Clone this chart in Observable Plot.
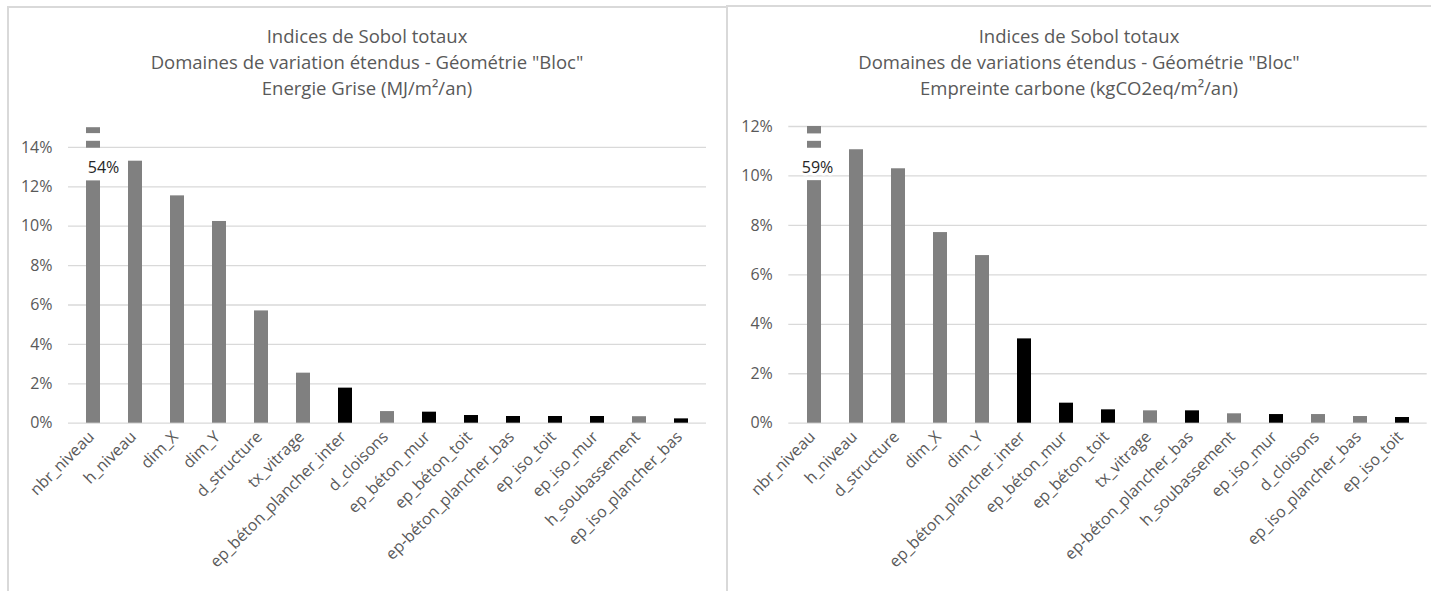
<!DOCTYPE html>
<html><head><meta charset="utf-8">
<script src="https://cdn.jsdelivr.net/npm/d3@7"></script>
<script src="https://cdn.jsdelivr.net/npm/@observablehq/plot@0.6"></script>
<style>
html,body{margin:0;padding:0;background:#fff;}
body{width:1431px;height:591px;overflow:hidden;position:relative;font-family:"Open Sans",sans-serif;}
.chart{position:absolute;top:0;}
.title{position:absolute;top:23px;text-align:center;color:#595959;font-size:18.5px;line-height:26px;white-space:nowrap;}
.line{position:absolute;background:#d9d9d9;}
</style></head><body>
<div id="leftChart" class="chart" style="left:0px;width:727px;"></div>
<div id="rightChart" class="chart" style="left:727px;width:704px;"></div>
<div id="leftTitle" class="title" style="left:7px;width:720px;"></div>
<div id="rightTitle" class="title" style="left:727px;width:704px;"></div>
<div class="line" style="left:7px;top:6px;width:2px;height:585px"></div>
<div class="line" style="left:7px;top:6px;width:721px;height:2px"></div>
<div class="line" style="left:726px;top:5px;width:2px;height:586px"></div>
<div class="line" style="left:726px;top:5px;width:705px;height:2px"></div>
<script>
const leftCategories = ["nbr_niveau","h_niveau","dim_X","dim_Y","d_structure","tx_vitrage","ep_béton_plancher_inter","d_cloisons","ep_béton_mur","ep_béton_toit","ep-béton_plancher_bas","ep_iso_toit","ep_iso_mur","h_soubassement","ep_iso_plancher_bas"];
const leftValues = [0.54,0.133,0.1154,0.1024,0.057,0.0254,0.0178,0.0059,0.0056,0.0039,0.0034,0.0034,0.0034,0.0033,0.0022];
const leftGroups = ["gris","gris","gris","gris","gris","gris","noir","gris","noir","noir","noir","noir","noir","gris","noir"];
const leftTicks = [0,0.02,0.04,0.06,0.08,0.10,0.12,0.14];
const leftCap = 0.123;
const leftBreakMarks = [[0.1396,0.1431],[0.1470,0.1500]];
const leftTitleLines = ["Indices de Sobol totaux","Domaines de variation étendus - Géométrie \"Bloc\"","Energie Grise (MJ/m²/an)"];

const rightCategories = ["nbr_niveau","h_niveau","d_structure","dim_X","dim_Y","ep_béton_plancher_inter","ep_béton_mur","ep_béton_toit","tx_vitrage","ep-béton_plancher_bas","h_soubassement","ep_iso_mur","d_cloisons","ep_iso_plancher_bas","ep_iso_toit"];
const rightValues = [0.59,0.1106,0.1029,0.0771,0.0678,0.0341,0.0081,0.0054,0.0050,0.0050,0.0038,0.0035,0.0035,0.0027,0.0023];
const rightGroups = ["gris","gris","gris","gris","gris","noir","noir","noir","gris","noir","gris","noir","gris","gris","noir"];
const rightTicks = [0,0.02,0.04,0.06,0.08,0.10,0.12];
const rightCap = 0.0981;
const rightBreakMarks = [[0.1112,0.1140],[0.1170,0.1200]];
const rightTitleLines = ["Indices de Sobol totaux","Domaines de variations étendus - Géométrie \"Bloc\"","Empreinte carbone (kgCO2eq/m²/an)"];

const pct = d3.format(".0%");

function draw(el, titleEl, cfg) {
  const yMax = d3.max(cfg.breaks, d => d[1]);
  const rows = cfg.categories.map((c, i) => {
    const v = cfg.values[i];
    const isBroken = v > yMax;
    return {cat: c, value: v, broken: isBroken, shown: isBroken ? cfg.cap : v, group: cfg.groups[i]};
  });
  const broken = rows.filter(d => d.broken);
  const marks = [];
  broken.forEach(b => cfg.breaks.forEach(([y1, y2]) => marks.push({cat: b.cat, y1, y2, group: b.group})));
  const plot = Plot.plot({
    width: cfg.width,
    height: 591,
    marginLeft: cfg.ml, marginRight: cfg.mr, marginTop: 422.7 - cfg.plotH, marginBottom: 168.3,
    style: {fontFamily: "'Open Sans', sans-serif", fontSize: "16px", color: "#595959", background: "transparent", overflow: "visible"},
    x: {domain: cfg.categories, paddingInner: 0.67, paddingOuter: 0.335, label: null},
    y: {domain: [0, yMax], label: null},
    color: {domain: ["gris","noir"], range: ["#808080","#000000"]},
    marks: [
      Plot.gridY(cfg.ticks, {stroke: "#d9d9d9", strokeOpacity: 1, strokeWidth: 1.3}),
      Plot.barY(rows, {x: "cat", y: "shown", fill: "group"}),
      Plot.rectY(marks, {x: "cat", y1: "y1", y2: "y2", fill: "group"}),
      Plot.text(broken, {x: "cat", y: "shown", text: d => pct(d.value), dx: cfg.labelDx, dy: -13, fill: "#262626", stroke: "white", strokeWidth: 5, fontSize: 16}),
      Plot.axisY(cfg.ticks, {tickFormat: pct, tickSize: 0, tickPadding: 16, fontSize: 16, fill: "#595959"}),
      Plot.axisX({tickRotate: -45, tickSize: 0, tickPadding: 11, dx: -2, fontSize: 16, fill: "#595959"})
    ]
  });
  el.appendChild(plot);
  titleEl.innerHTML = cfg.title.map(t => `<div>${t.replace(/</g,"&lt;")}</div>`).join("");
}

draw(document.getElementById("leftChart"), document.getElementById("leftTitle"), {
  categories: leftCategories, values: leftValues, groups: leftGroups, ticks: leftTicks, cap: leftCap, breaks: leftBreakMarks, title: leftTitleLines,
  width: 727, ml: 68, mr: 21, plotH: 295.5, labelDx: 10
});
draw(document.getElementById("rightChart"), document.getElementById("rightTitle"), {
  categories: rightCategories, values: rightValues, groups: rightGroups, ticks: rightTicks, cap: rightCap, breaks: rightBreakMarks, title: rightTitleLines,
  width: 704, ml: 61.3, mr: 4.3, plotH: 296.7, labelDx: 3
});
</script>
</body></html>
